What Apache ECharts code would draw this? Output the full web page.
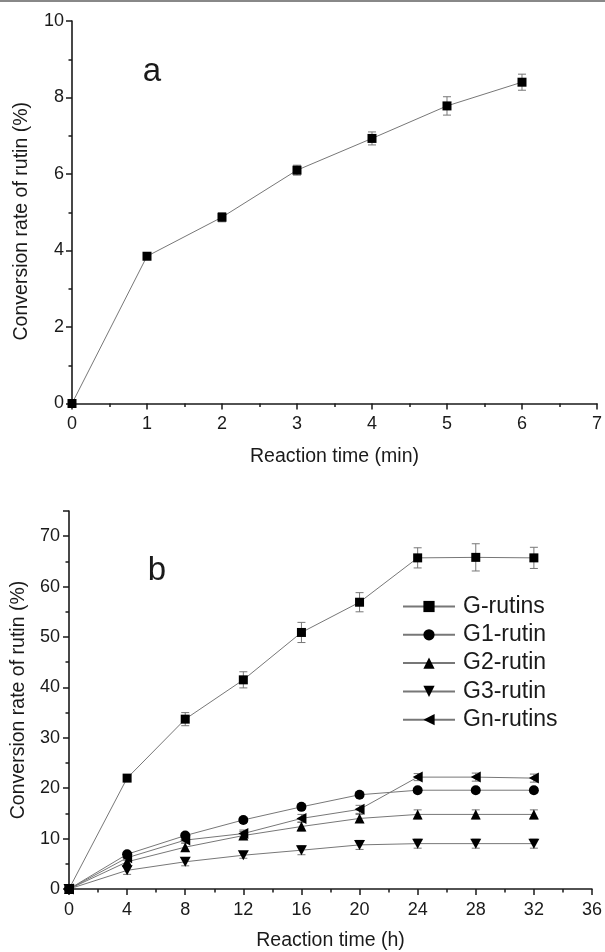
<!DOCTYPE html>
<html>
<head>
<meta charset="utf-8">
<script src="https://cdn.jsdelivr.net/npm/echarts@6/dist/echarts.min.js"></script>
<style>
html,body{margin:0;padding:0;background:#fff;}
#main{width:605px;height:952px;}
</style>
</head>
<body>
<div id="main"></div>
<script>
// panel a: reaction time in minutes
var timeMin = [0, 1, 2, 3, 4, 5, 6];
var rateA = [0, 3.85, 4.87, 6.1, 6.93, 7.78, 8.4];
var errA = [0, 0.06, 0.12, 0.13, 0.17, 0.24, 0.21];

// panel b: reaction time in hours
var timeH = [0, 4, 8, 12, 16, 20, 24, 28, 32];
var seriesNames = ['G-rutins', 'G1-rutin', 'G2-rutin', 'G3-rutin', 'Gn-rutins'];
var gRutins = [0, 22.0, 33.7, 41.5, 50.9, 56.9, 65.7, 65.8, 65.7];
var g1Rutin = [0, 6.9, 10.6, 13.7, 16.3, 18.7, 19.6, 19.6, 19.6];
var g2Rutin = [0, 5.4, 8.3, 10.6, 12.4, 14.0, 14.8, 14.8, 14.8];
var g3Rutin = [0, 3.7, 5.4, 6.7, 7.7, 8.75, 9.0, 9.0, 9.0];
var gnRutins = [0, 6.2, 9.7, 11.0, 14.0, 15.8, 22.2, 22.2, 22.0];
var gRutinsErr = [0, 0.5, 1.3, 1.6, 2.0, 1.9, 2.0, 2.7, 2.1];
var g1Err = [0, 0.4, 0.5, 0.5, 0.5, 0.5, 0.5, 0.5, 0.5];
var g2Err = [0, 0.6, 0.8, 0.8, 0.9, 0.8, 0.9, 0.9, 0.9];
var g3Err = [0, 0.8, 0.8, 0.6, 0.9, 0.9, 0.9, 0.9, 0.9];
var gnErr = [0, 0.5, 0.6, 0.7, 0.8, 0.8, 0.7, 0.8, 0.8];

var FONT = 'Liberation Sans, Arial, sans-serif';
var INK = '#1a1a1a';

function pairs(xs, ys) {
    return xs.map(function (x, i) { return [x, ys[i]]; });
}
function errData(xs, ys, es) {
    return xs.map(function (x, i) { return [x, ys[i] - es[i], ys[i] + es[i]]; });
}
// vertical error bar with caps
function renderErr(params, api) {
    var x = api.value(0);
    var lo = api.coord([x, api.value(1)]);
    var hi = api.coord([x, api.value(2)]);
    var w = 4;
    var st = { stroke: '#777', lineWidth: 1 };
    return {
        type: 'group',
        children: [
            { type: 'line', shape: { x1: lo[0], y1: lo[1], x2: hi[0], y2: hi[1] }, style: st },
            { type: 'line', shape: { x1: lo[0] - w, y1: lo[1], x2: lo[0] + w, y2: lo[1] }, style: st },
            { type: 'line', shape: { x1: hi[0] - w, y1: hi[1], x2: hi[0] + w, y2: hi[1] }, style: st }
        ]
    };
}
function errSeries(idx, data) {
    return {
        type: 'custom', xAxisIndex: idx, yAxisIndex: idx, z: 1, silent: true,
        renderItem: renderErr, encode: { x: 0, y: [1, 2] }, data: data
    };
}
function lineSeries(idx, name, data, symbol, size) {
    return {
        name: name, type: 'line', xAxisIndex: idx, yAxisIndex: idx, z: 3,
        data: data, symbol: symbol, symbolSize: size, showAllSymbol: true,
        lineStyle: { color: '#777', width: 1 },
        itemStyle: { color: '#000' },
        emphasis: { disabled: true }
    };
}
function valueAxis(idx, min, max, interval, name, gap, labelMargin) {
    return {
        type: 'value', gridIndex: idx, min: min, max: max, interval: interval,
        name: name, nameLocation: 'middle', nameGap: gap,
        nameTextStyle: { fontFamily: FONT, fontSize: 19.5, color: INK },
        axisLine: { show: true, lineStyle: { color: INK, width: 1.6 } },
        axisTick: { show: true, inside: false, length: 6, lineStyle: { color: INK, width: 1.5 } },
        minorTick: { show: true, splitNumber: 2, length: 3.5, lineStyle: { color: INK, width: 1.5 } },
        axisLabel: { fontFamily: FONT, fontSize: 18, color: INK, margin: labelMargin, showMaxLabel: true },
        splitLine: { show: false }
    };
}

var chart = echarts.init(document.getElementById('main'));

var yA = valueAxis(0, 0, 10, 2, 'Conversion rate of rutin (%)', 40, 8);
yA.nameTextStyle.padding = [0, 18, 0, 0];
var yB = valueAxis(1, 0, 75, 10, 'Conversion rate of rutin (%)', 40, 9);
yB.axisLabel.showMaxLabel = false;

var option = {
    backgroundColor: '#fff',
    animation: false,
    grid: [
        { left: 72, top: 21, width: 525, height: 382.5 },
        { left: 69, top: 511, width: 526, height: 383 }
    ],
    xAxis: [
        valueAxis(0, 0, 7, 1, 'Reaction time (min)', 43, 12),
        valueAxis(1, 0, 36, 4, 'Reaction time (h)', 42, 12)
    ],
    yAxis: [yA, yB],
    legend: {
        data: seriesNames,
        orient: 'vertical',
        left: 402, top: 595, padding: 0,
        itemWidth: 52, itemHeight: 14, itemGap: 5.3,
        selectedMode: false,
        textStyle: { fontFamily: FONT, fontSize: 23, color: INK, lineHeight: 23, padding: [0, 0, 0, 3] }
    },
    graphic: [
        { type: 'line', shape: { x1: 0, y1: 1, x2: 605, y2: 1 }, style: { stroke: '#888', lineWidth: 2 } },
        { type: 'text', x: 152, y: 71.5, style: { text: 'a', font: '33px ' + FONT, fill: INK, align: 'center', verticalAlign: 'middle' } },
        { type: 'text', x: 157, y: 570.5, style: { text: 'b', font: '33px ' + FONT, fill: INK, align: 'center', verticalAlign: 'middle' } }
    ],
    series: [
        errSeries(0, errData(timeMin, rateA, errA)),
        lineSeries(0, 'a', pairs(timeMin, rateA), 'rect', 9),

        errSeries(1, errData(timeH, gRutins, gRutinsErr)),
        errSeries(1, errData(timeH, g1Rutin, g1Err)),
        errSeries(1, errData(timeH, g2Rutin, g2Err)),
        errSeries(1, errData(timeH, g3Rutin, g3Err)),
        errSeries(1, errData(timeH, gnRutins, gnErr)),
        lineSeries(1, seriesNames[0], pairs(timeH, gRutins), 'rect', 9),
        lineSeries(1, seriesNames[1], pairs(timeH, g1Rutin), 'circle', 10),
        lineSeries(1, seriesNames[2], pairs(timeH, g2Rutin), 'triangle', 10),
        lineSeries(1, seriesNames[3], pairs(timeH, g3Rutin), 'path://M0,0L20,0L10,18Z', [11, 10]),
        lineSeries(1, seriesNames[4], pairs(timeH, gnRutins), 'path://M18,0L18,20L0,10Z', [10, 11])
    ]
};
chart.setOption(option);
</script>
</body>
</html>
